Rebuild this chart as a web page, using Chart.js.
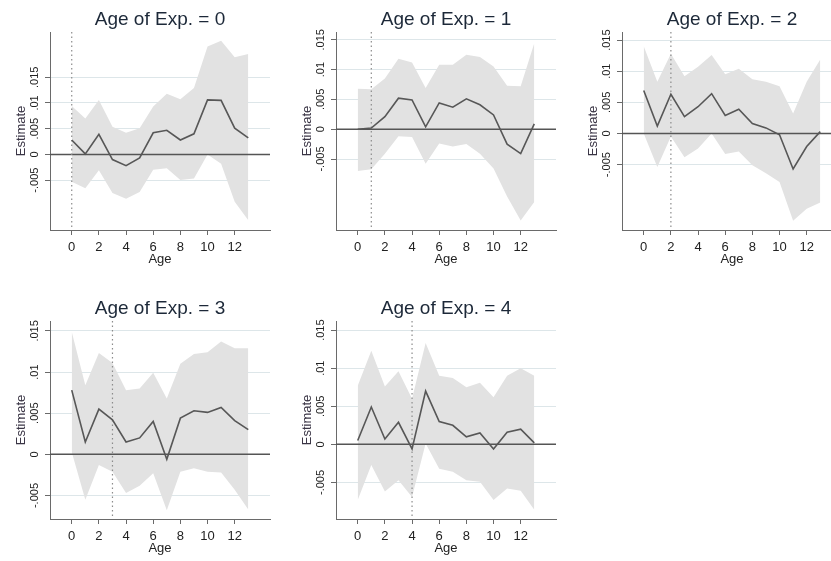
<!DOCTYPE html>
<html>
<head>
<meta charset="utf-8">
<script src="https://cdn.jsdelivr.net/npm/chart.js@4/dist/chart.umd.min.js"></script>
<style>
body { margin: 0; width: 831px; height: 561px; overflow: hidden; background: #fff; position: relative; }
.cell { position: absolute; }
</style>
</head>
<body>
<script>
const ages = [0, 1, 2, 3, 4, 5, 6, 7, 8, 9, 10, 11, 12, 13];
const xTicks = [0, 2, 4, 6, 8, 10, 12];
const yTicks = [-0.005, 0, 0.005, 0.01, 0.015];
const yTickLabels = ['-.005', '0', '.005', '.01', '.015'];
const expAges = [0, 1, 2, 3, 4];

// estimate and 95% band, one set per age of exposure
const est0 = [0.0028, 0.0001, 0.0039, -0.001, -0.0022, -0.0007, 0.0042, 0.0047, 0.0028, 0.004, 0.0106, 0.0105, 0.0051, 0.0032];
const hi0 = [0.0094, 0.007, 0.0106, 0.0054, 0.0042, 0.0051, 0.0093, 0.0118, 0.0107, 0.0129, 0.021, 0.0221, 0.0189, 0.0195];
const lo0 = [-0.0053, -0.0066, -0.0031, -0.0075, -0.0086, -0.0073, -0.003, -0.0027, -0.005, -0.0047, 0.0, -0.0018, -0.0092, -0.0128];

const est1 = [0.0, 0.0002, 0.0021, 0.0052, 0.0049, 0.0004, 0.0044, 0.0037, 0.0051, 0.0041, 0.0024, -0.0025, -0.0041, 0.0009];
const hi1 = [0.0068, 0.0067, 0.0085, 0.0118, 0.0112, 0.0069, 0.0108, 0.0108, 0.0125, 0.0121, 0.0105, 0.0073, 0.0072, 0.0144];
const lo1 = [-0.007, -0.0067, -0.0041, -0.0012, -0.0013, -0.0058, -0.0024, -0.0029, -0.0025, -0.0041, -0.0066, -0.0113, -0.0153, -0.0122];

const est2 = [0.0069, 0.0012, 0.0063, 0.0027, 0.0043, 0.0064, 0.0029, 0.0039, 0.0016, 0.0009, -0.0002, -0.0057, -0.0021, 0.0003];
const hi2 = [0.014, 0.0083, 0.0128, 0.0092, 0.0107, 0.0126, 0.0095, 0.0104, 0.0087, 0.0083, 0.0076, 0.0032, 0.0083, 0.0119];
const lo2 = [0.0, -0.0054, -0.0005, -0.0038, -0.0024, 0.0, -0.0033, -0.0029, -0.0051, -0.0064, -0.0078, -0.014, -0.0121, -0.0111];

const est3 = [0.0078, 0.0015, 0.0055, 0.0042, 0.0015, 0.002, 0.004, -0.0006, 0.0044, 0.0053, 0.0051, 0.0057, 0.0041, 0.003];
const hi3 = [0.0149, 0.0084, 0.0123, 0.0111, 0.0078, 0.008, 0.0099, 0.0068, 0.011, 0.0122, 0.0124, 0.0137, 0.0129, 0.0129];
const lo3 = [0.0003, -0.0055, -0.0013, -0.0021, -0.0047, -0.0038, -0.0023, -0.0068, -0.0021, -0.0017, -0.0021, -0.0022, -0.0043, -0.0067];

const est4 = [0.0005, 0.0049, 0.0007, 0.0029, -0.0006, 0.007, 0.003, 0.0025, 0.001, 0.0015, -0.0006, 0.0016, 0.002, 0.0002];
const hi4 = [0.0077, 0.0123, 0.0076, 0.0096, 0.006, 0.0133, 0.009, 0.0087, 0.0075, 0.0081, 0.0062, 0.009, 0.01, 0.009];
const lo4 = [-0.0073, -0.0027, -0.0062, -0.0047, -0.0069, 0.0001, -0.0032, -0.0036, -0.0047, -0.0049, -0.0073, -0.0058, -0.0061, -0.0086];

const yMin = [-0.0147, -0.0169, -0.0155, -0.00785, -0.0098];
const yMax = [0.0238, 0.0163, 0.0163, 0.0162, 0.0162];

const series = [
    { est: est0, hi: hi0, lo: lo0 },
    { est: est1, hi: hi1, lo: lo1 },
    { est: est2, hi: hi2, lo: lo2 },
    { est: est3, hi: hi3, lo: lo3 },
    { est: est4, hi: hi4, lo: lo4 }
];

// where each panel sits on the page (cell) and where its plot box is inside it
const boxes = [
    { x: 0, y: 0, w: 278, h: 280, l: 50, t: 32, r: 270, b: 230 },
    { x: 280, y: 0, w: 280, h: 280, l: 56, t: 32, r: 276, b: 230 },
    { x: 560, y: 0, w: 290, h: 280, l: 62, t: 32, r: 282, b: 230 },
    { x: 0, y: 280, w: 278, h: 281, l: 50, t: 41, r: 270, b: 239 },
    { x: 280, y: 280, w: 280, h: 281, l: 56, t: 41, r: 276, b: 239 }
];

const FONT = "'Liberation Sans', Arial, sans-serif";

const toPoints = vals => vals.map((v, i) => ({ x: ages[i], y: v }));

// zero line + dotted marker under the estimate line, texts on top
const overlay = {
    id: 'overlay',
    beforeDatasetDraw(chart, args, opts) {
        if (args.index !== 0) return;
        const { ctx, chartArea: a, scales: { x, y } } = chart;
        ctx.save();
        const y0 = y.getPixelForValue(0);
        ctx.strokeStyle = '#555';
        ctx.lineWidth = 1.5;
        ctx.beginPath(); ctx.moveTo(a.left, y0); ctx.lineTo(a.right, y0); ctx.stroke();

        const xe = x.getPixelForValue(opts.exp);
        ctx.setLineDash([1.5, 3]);
        ctx.strokeStyle = '#8c8c8c';
        ctx.lineWidth = 1.2;
        ctx.beginPath(); ctx.moveTo(xe, a.top); ctx.lineTo(xe, a.bottom); ctx.stroke();
        ctx.restore();
    },
    afterDraw(chart, args, opts) {
        const { ctx, chartArea: a, scales: { x, y } } = chart;
        const cx = (a.left + a.right) / 2;
        ctx.save();
        ctx.fillStyle = '#1c2838';
        ctx.font = '19px ' + FONT;
        ctx.textAlign = 'center';
        ctx.textBaseline = 'middle';
        ctx.fillText('Age of Exp. = ' + opts.exp, cx, a.top - 12);

        ctx.fillStyle = '#222';
        ctx.font = '13px ' + FONT;
        xTicks.forEach(v => ctx.fillText(String(v), x.getPixelForValue(v), a.bottom + 17));
        ctx.fillText('Age', cx, a.bottom + 29);

        // rotated y labels
        ctx.font = '11px ' + FONT;
        ctx.textBaseline = 'alphabetic';
        yTicks.forEach((v, i) => {
            ctx.save();
            ctx.translate(a.left - 12, y.getPixelForValue(v));
            ctx.rotate(-Math.PI / 2);
            ctx.fillText(yTickLabels[i], 0, 0);
            ctx.restore();
        });
        ctx.fillStyle = '#3a3545';
        ctx.font = '13px ' + FONT;
        ctx.save();
        ctx.translate(a.left - 25, (a.top + a.bottom) / 2);
        ctx.rotate(-Math.PI / 2);
        ctx.fillText('Estimate', 0, 0);
        ctx.restore();
        ctx.restore();
    }
};

series.forEach((s, i) => {
    const b = boxes[i];
    const cell = document.createElement('div');
    cell.className = 'cell';
    cell.style.left = b.x + 'px';
    cell.style.top = b.y + 'px';
    const canvas = document.createElement('canvas');
    canvas.width = b.w;
    canvas.height = b.h;
    cell.appendChild(canvas);
    document.body.appendChild(cell);

    new Chart(canvas.getContext('2d'), {
        type: 'line',
        data: {
            datasets: [
                {
                    label: 'Estimate',
                    data: toPoints(s.est),
                    borderColor: '#575757',
                    borderWidth: 1.6,
                    pointRadius: 0,
                    fill: false,
                    tension: 0
                },
                {
                    label: 'upper',
                    data: toPoints(s.hi),
                    borderWidth: 0,
                    pointRadius: 0,
                    backgroundColor: '#e2e2e2',
                    fill: '+1',
                    tension: 0
                },
                {
                    label: 'lower',
                    data: toPoints(s.lo),
                    borderWidth: 0,
                    pointRadius: 0,
                    backgroundColor: '#e2e2e2',
                    fill: false,
                    tension: 0
                }
            ]
        },
        options: {
            responsive: false,
            animation: false,
            events: [],
            layout: { padding: { left: 0, top: b.t, right: b.w - b.r, bottom: 0 } },
            plugins: {
                legend: { display: false },
                title: { display: false },
                tooltip: { enabled: false },
                overlay: { exp: expAges[i] }
            },
            scales: {
                x: {
                    type: 'linear',
                    min: -1.6,
                    max: 14.6,
                    afterBuildTicks: sc => { sc.ticks = xTicks.map(v => ({ value: v })); },
                    afterFit: sc => { sc.height = b.h - b.b; },
                    ticks: { display: false },
                    grid: { drawOnChartArea: false, drawTicks: true, tickLength: 5, color: '#6a6a6a' },
                    border: { display: true, color: '#6a6a6a', width: 1 }
                },
                y: {
                    type: 'linear',
                    min: yMin[i],
                    max: yMax[i],
                    afterBuildTicks: sc => { sc.ticks = yTicks.map(v => ({ value: v })); },
                    afterFit: sc => { sc.width = b.l; },
                    ticks: { display: false },
                    grid: {
                        drawOnChartArea: true,
                        drawTicks: true,
                        tickLength: 5,
                        color: '#dde6e9',
                        tickColor: '#6a6a6a'
                    },
                    border: { display: true, color: '#6a6a6a', width: 1 }
                }
            }
        },
        plugins: [overlay]
    });
});
</script>
</body>
</html>
